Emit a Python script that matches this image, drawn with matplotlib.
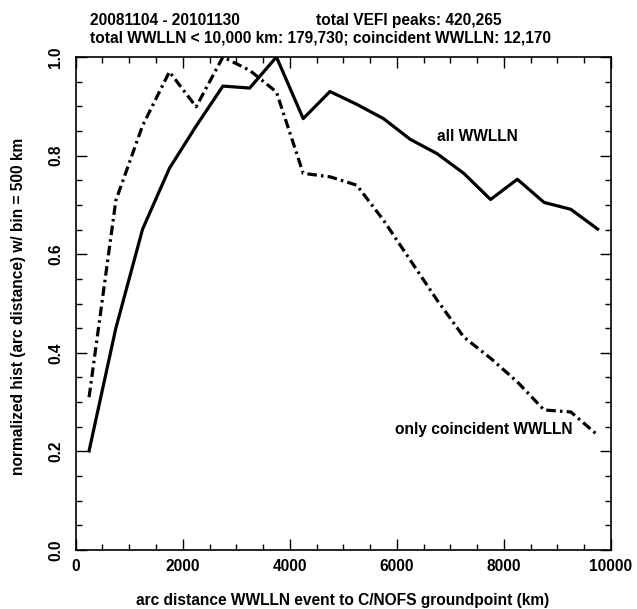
import matplotlib
matplotlib.use("Agg")
import matplotlib.pyplot as plt
from matplotlib.ticker import MultipleLocator

plt.rcParams['font.family'] = ['Liberation Sans', 'DejaVu Sans']
plt.rcParams['font.weight'] = 'bold'

bin_centers = [250, 750, 1250, 1750, 2250, 2750, 3250, 3750, 4250, 4750,
               5250, 5750, 6250, 6750, 7250, 7750, 8250, 8750, 9250, 9750]
all_wwlln = [0.201, 0.45, 0.651, 0.774, 0.86, 0.941, 0.937, 1.0, 0.875, 0.930,
             0.904, 0.875, 0.833, 0.804, 0.764, 0.711, 0.752, 0.705, 0.691, 0.651]
coincident = [0.310, 0.709, 0.861, 0.970, 0.899, 1.0, 0.973, 0.929, 0.764, 0.757,
              0.740, 0.669, 0.588, 0.507, 0.432, 0.389, 0.341, 0.284, 0.280, 0.233]

xticks = [0, 2000, 4000, 6000, 8000, 10000]
xticklabels = ['0', '2000', '4000', '6000', '8000', '10000']
yticks = [0, 0.2, 0.4, 0.6, 0.8, 1.0]
yticklabels = ['0.0', '0.2', '0.4', '0.6', '0.8', '1.0']

title_left = "20081104 - 20101130"
title_right = "total VEFI peaks: 420,265"
title_line2 = "total WWLLN < 10,000 km: 179,730; coincident WWLLN: 12,170"
xlabel = "arc distance WWLLN event to C/NOFS groundpoint (km)"
ylabel = "normalized hist (arc distance) w/ bin = 500 km"
label_all = "all WWLLN"
label_coinc = "only coincident WWLLN"

FS = 11.2
W, H = 637, 609
fig = plt.figure(figsize=(W / 100, H / 100), dpi=100)
ax = fig.add_axes([75.7 / W, 1 - 550 / H, (611 - 75.7) / W, (550 - 57) / H])

ax.plot(bin_centers, all_wwlln, color='black', lw=2.3)
ax.plot(bin_centers, coincident, color='black', lw=2.3, dashes=(3.0, 1.3, 0.8, 1.3))

ax.set_xlim(0, 10000)
ax.set_ylim(0, 1.0)
ax.xaxis.set_minor_locator(MultipleLocator(500))
ax.yaxis.set_minor_locator(MultipleLocator(0.05))
ax.set_xticks(xticks)
ax.set_xticklabels(xticklabels, fontweight='bold')
ax.set_yticks(yticks)
ax.set_yticklabels(yticklabels, rotation=90, va='center', fontweight='bold')
ax.tick_params(which='both', direction='in', top=True, right=True, width=1.0,
               labelsize=FS)
ax.tick_params(which='major', length=8)
ax.tick_params(which='minor', length=4)
ax.tick_params(axis='x', which='major', pad=6.5)
ax.tick_params(axis='y', which='major', pad=9)
for s in ax.spines.values():
    s.set_linewidth(1.2)

fig.text(343 / W, 1 - 601 / H, xlabel, fontsize=FS, fontweight='bold', ha='center', va='center')
fig.text(19 / W, 1 - 306 / H, ylabel, fontsize=FS, fontweight='bold', ha='center', va='center',
         rotation=90)

ax.text(6744, 0.838, label_all, fontsize=FS, fontweight='bold', ha='left', va='center')
ax.text(9284, 0.245, label_coinc, fontsize=FS, fontweight='bold', ha='right', va='center')

fig.text(90 / W, 1 - 20.5 / H, title_left, fontsize=FS, fontweight='bold', ha='left', va='center')
fig.text(316 / W, 1 - 20.5 / H, title_right, fontsize=FS, fontweight='bold', ha='left', va='center')
fig.text(90 / W, 1 - 38 / H, title_line2, fontsize=FS, fontweight='bold', ha='left', va='center')

fig.savefig("out.png", dpi=100)
